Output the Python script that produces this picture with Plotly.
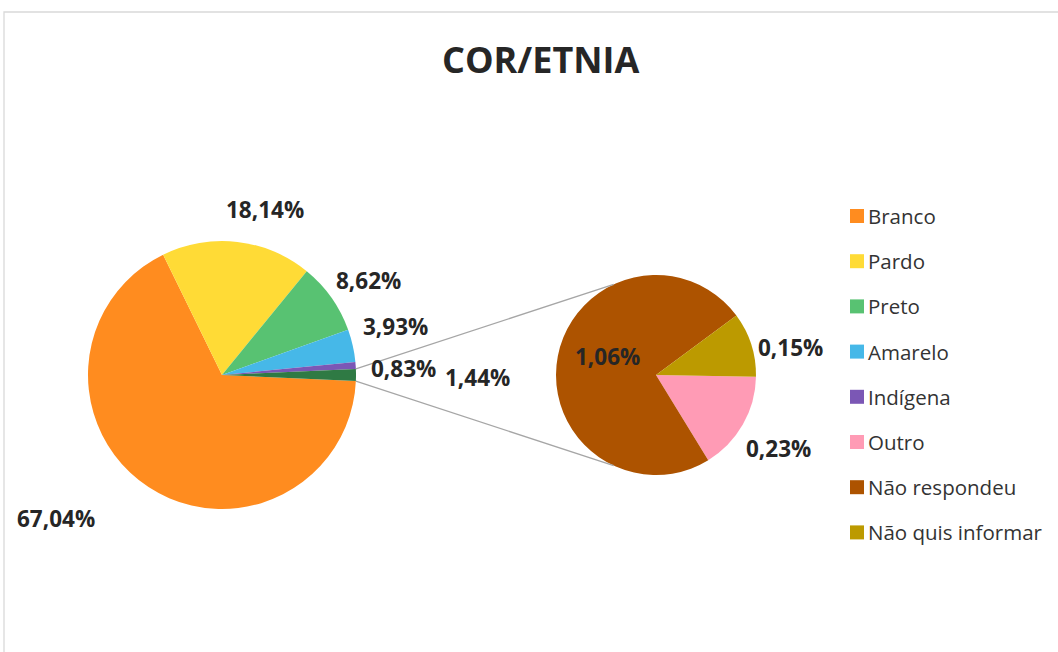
import math
import plotly.graph_objects as go

# dados
main_labels = ["Branco", "Pardo", "Preto", "Amarelo", "Indígena"]
main_values = [67.04, 18.14, 8.62, 3.93, 0.83]
sub_labels = ["Outro", "Não respondeu", "Não quis informar"]
sub_values = [0.23, 1.06, 0.15]
legend_labels = main_labels + sub_labels

main_colors = ["#FF8C1F", "#FFDB36", "#58C272", "#46B8E8", "#7B57B5", "#2F7A44"]
sub_colors = ["#FF9BB5", "#AD5300", "#BC9A00"]
legend_colors = main_colors[:5] + sub_colors

W, H = 1058, 652
other = round(sum(sub_values), 2)
all_main = main_values + [other]


def fmt(v):
    return f"{v:.2f}".replace(".", ",") + "%"


# geometria (pixels)
c1, r1 = (222, 375), 134
c2, r2 = (656, 375), 100


def dom(c, r):
    return dict(x=[(c[0] - r) / W, (c[0] + r) / W],
                y=[(H - c[1] - r) / H, (H - c[1] + r) / H])


# o slice "outros" fica centrado às 3 horas
other_deg = other / sum(all_main) * 360
rot_main = 90 + other_deg / 2

fig = go.Figure()
fig.add_trace(go.Pie(labels=main_labels + ["Outros"], values=all_main,
                     marker=dict(colors=main_colors, line=dict(width=0)),
                     sort=False, direction="clockwise", rotation=rot_main,
                     textinfo="none", showlegend=False, domain=dom(c1, r1)))
fig.add_trace(go.Pie(labels=sub_labels, values=sub_values,
                     marker=dict(colors=sub_colors, line=dict(width=0)),
                     sort=False, direction="clockwise", rotation=91,
                     textinfo="none", showlegend=False, domain=dom(c2, r2)))

# linhas de ligação
a = math.radians(other_deg / 2)
for s in (-1, 1):
    x0 = c1[0] + r1 * math.cos(a)
    y0 = c1[1] + s * r1 * math.sin(a)
    b = math.radians(115)
    x1 = c2[0] + r2 * math.cos(b)
    y1 = c2[1] + s * r2 * math.sin(b)
    fig.add_shape(type="line", xref="paper", yref="paper",
                  x0=x0 / W, y0=1 - y0 / H, x1=x1 / W, y1=1 - y1 / H,
                  line=dict(color="#A6A6A6", width=1.3))

# rótulos
main_pos = [(56, 518), (265, 210), (368, 280), (395, 326), (403, 369), (477, 377)]
sub_pos = [(778, 448), (607, 357), (790, 347)]
for v, (x, y) in zip(all_main + sub_values, main_pos + sub_pos):
    fig.add_annotation(x=x / W, y=1 - y / H, xref="paper", yref="paper",
                       text=f"<b>{fmt(v)}</b>", showarrow=False,
                       xanchor="center", yanchor="middle",
                       font=dict(size=22.5, color="#262626"))

# legenda
for i, (lab, col) in enumerate(zip(legend_labels, legend_colors)):
    y = 216 + i * 45.2
    fig.add_shape(type="rect", xref="paper", yref="paper",
                  x0=850 / W, x1=864 / W, y0=1 - (y + 7) / H, y1=1 - (y - 7) / H,
                  fillcolor=col, line=dict(width=0))
    fig.add_annotation(x=866 / W, y=1 - y / H, xref="paper", yref="paper",
                       text=lab, showarrow=False, xanchor="left", yanchor="middle",
                       font=dict(size=20.5, color="#333333"))

# moldura
fig.add_shape(type="rect", xref="paper", yref="paper",
              x0=4 / W, x1=1.02, y0=-0.02, y1=1 - 12 / H,
              line=dict(color="#D9D9D9", width=1.3))

fig.update_layout(
    width=W, height=H,
    margin=dict(l=0, r=0, t=0, b=0),
    paper_bgcolor="white",
    font=dict(family="Open Sans"),
    title=dict(text="<b>COR/ETNIA</b>", x=0.511, xanchor="center",
               y=1 - 60 / H, yanchor="middle",
               font=dict(size=36, color="#262626")),
)

fig.write_html("out.html", config={"displayModeBar": False},
               post_script="document.body.style.margin='0';")
